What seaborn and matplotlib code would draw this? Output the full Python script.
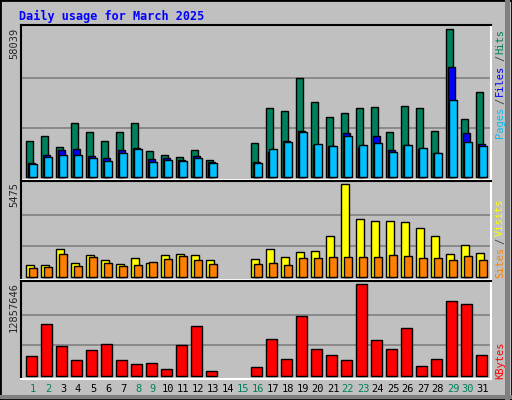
import numpy as np
import pandas as pd
import matplotlib
matplotlib.use("Agg")
import matplotlib.pyplot as plt
import seaborn as sns

days = list(range(1, 32))
hits = [13940,15900,11570,21030,17480,13940,17480,21030,10000,8430,7640,10390,6460,0,0,
        13150,26930,25750,38740,29290,23390,24960,26930,27330,17480,27720,26930,17880,58039,22600,33230]
files = [5280,8430,10390,10790,8030,7240,10390,11180,6850,7240,6460,8030,5670,0,0,
         5670,9610,13940,17880,12360,11970,17090,11570,15900,10390,12360,10790,9210,43080,17090,12760]
pages = [4880,7640,8430,8430,7240,6060,9210,10790,5670,6460,6060,7240,5280,0,0,
         5280,10790,13550,17480,12760,11970,15900,12360,13150,9610,12360,11180,9210,30080,13550,11970]
sites = [672,672,1621,791,1265,969,731,1087,791,1265,1324,1265,969,0,0,
         1028,1621,1146,1443,1502,2392,5475,3400,3281,3281,3222,2866,2392,1324,1858,1384]
visits = [494,553,1324,613,1146,791,613,672,850,1028,1206,969,731,0,0,
          731,791,672,1087,1087,1146,1146,1146,1146,1265,1206,1087,1087,969,1206,969]
kbytes = [2722000,7227000,4130000,2159000,3566000,4411000,2159000,1595000,1736000,892000,4270000,6945000,610000,0,0,
          1173000,5115000,2299000,8353000,3707000,2862000,2159000,12857646,4974000,3707000,6664000,1314000,2299000,10465000,10042000,2862000]
weekend = [1,2,8,9,15,16,22,23,29,30]

sns.set_style("white")
plt.rcParams['font.family'] = ['DejaVu Sans Mono', 'DejaVu Sans']

W, H = 512, 400
fig = plt.figure(figsize=(W/100, H/100), dpi=100)
fig.patch.set_facecolor('#C0C0C0')

def axes_px(x0, y0, x1, y1):
    return fig.add_axes([x0/W, 1-y1/H, (x1-x0)/W, (y1-y0)/H])

GREEN, BLUE, CYAN = '#00805C', '#0000FF', '#00C0FF'
YEL, ORA, RED = '#FFFF00', '#FF8000', '#FF0000'

def panel(ax, series, maxv, upp, base_pad, top_px):
    ax.set_facecolor('#C0C0C0')
    for frac in (1/3, 2/3):
        ax.axhline(maxv*frac, color='#808080', lw=1.2, zorder=0)
    for vals, off, w, col in series:
        d = pd.DataFrame({'x': days, 'y': vals})
        d = d[d.y > 0]
        sns.barplot(x=d.x + off, y=d.y, native_scale=True, width=w, color=col,
                    edgecolor='black', linewidth=1, saturation=1, ax=ax, zorder=2)
    ax.set_xlim(0.5 - 5/15, 31.5)
    ax.set_ylim(-base_pad*upp, top_px*upp)
    ax.set_xticks([]); ax.set_yticks([])
    ax.set_xlabel(''); ax.set_ylabel('')
    for s in ('top', 'left'):
        ax.spines[s].set_color('black'); ax.spines[s].set_linewidth(1.5)
    for s in ('bottom', 'right'):
        ax.spines[s].set_color('white'); ax.spines[s].set_linewidth(1.5)

ax1 = axes_px(20.7, 25.3, 490.7, 180)
panel(ax1, [(hits, -0.26, 0.5, GREEN), (files, -0.1, 0.5, BLUE), (pages, -0.02, 0.5, CYAN)],
      58039, 58039/147.4, 3.3, 151.4)
ax2 = axes_px(20.7, 180.5, 490.7, 280)
panel(ax2, [(sites, -0.22, 0.55, YEL), (visits, 0.0, 0.5, ORA)],
      5475, 5475/92.4, 3.3, 96.2)
ax3 = axes_px(20.7, 280.5, 490.7, 379)
panel(ax3, [(kbytes, -0.1, 0.7, RED)],
      12857646, 12857646/91.3, 3.3, 95.2)

def ft(xp, yp, s, **kw):
    fig.text(xp/W, 1-yp/H, s, **kw)

ft(19, 16, 'Daily usage for March 2025', color='#0000FF', fontsize=8.5,
   fontweight='bold', va='center', ha='left')
ft(14, 28, '58039', rotation=90, fontsize=7.5, ha='center', va='top')
ft(14, 182, '5475', rotation=90, fontsize=7.5, ha='center', va='top')
ft(14, 282, '12857646', rotation=90, fontsize=7.5, ha='center', va='top')

rx = 500
for s, y, c in [('Pages', 122, CYAN), ('/', 101, '#404040'), ('Files', 80, BLUE),
                ('/', 58, '#404040'), ('Hits', 41, GREEN),
                ('Sites', 262, ORA), ('/', 241, '#404040'), ('Visits', 217, YEL),
                ('KBytes', 360, RED)]:
    ft(rx, y, s, rotation=90, fontsize=7.5, color=c, ha='center', va='center')

for d in days:
    ft(33 + (d-1)*15, 389, str(d), fontsize=7.5, ha='center', va='center',
       color=GREEN if d in weekend else 'black')

# outer frame
from matplotlib.patches import Rectangle
fig.patches.append(Rectangle((0, 0), 1, 1, transform=fig.transFigure, fill=False,
                             edgecolor='black', lw=2))
fig.patches.append(Rectangle((505/W, 0), 5/W, 1, transform=fig.transFigure,
                             color='#808080', lw=0))
fig.patches.append(Rectangle((0, 1/H), 1, 4/H, transform=fig.transFigure,
                             color='#808080', lw=0))

fig.savefig('out.png', dpi=100, facecolor=fig.get_facecolor())
